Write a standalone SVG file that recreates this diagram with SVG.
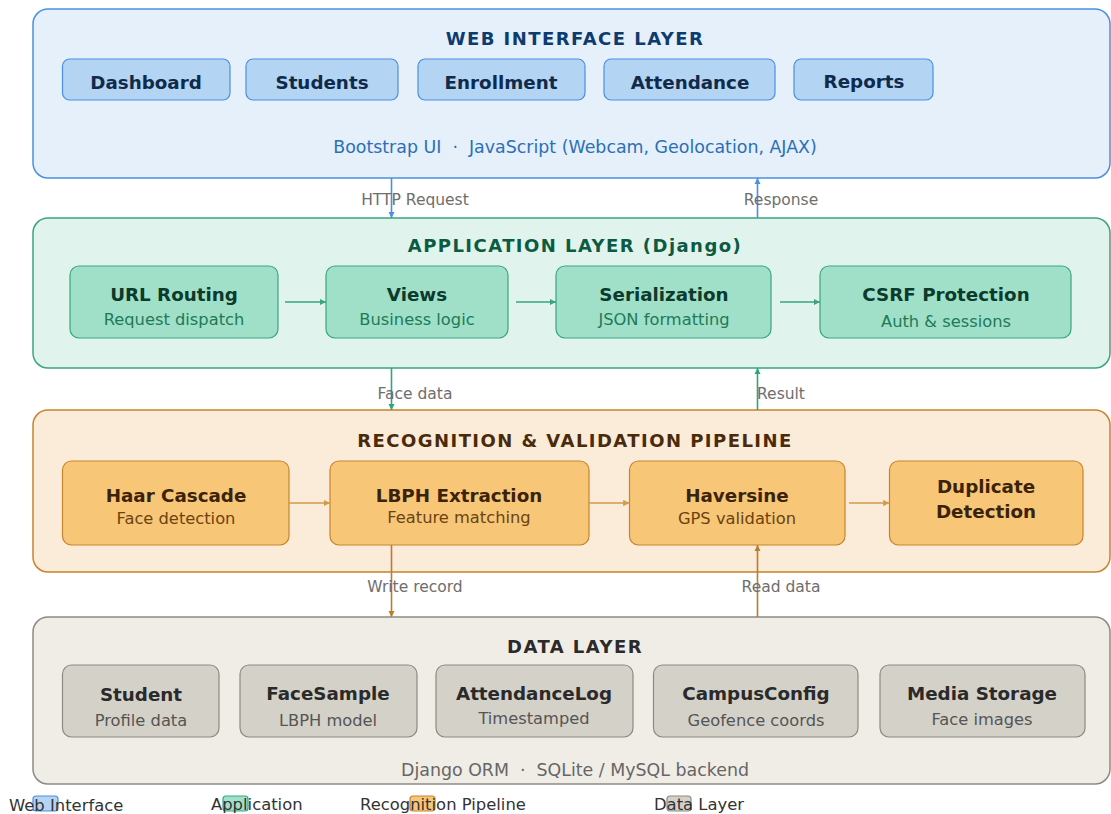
<svg xmlns="http://www.w3.org/2000/svg" width="1111" height="814" viewBox="0 0 1111 814">
<style>
text{font-family:"DejaVu Sans","Noto Sans",sans-serif;text-anchor:middle;white-space:pre}
.lt{font-size:18px;font-weight:bold;letter-spacing:1.45px}
.nt{font-size:18.3px;font-weight:bold}
.ns{font-size:16.3px}
.fs{font-size:17.4px}
.cl{font-size:15.5px;fill:#6e6e6e}
.lg{font-size:16.4px;fill:#333;text-anchor:start}
.web .layer{fill:#e5f0fb;stroke:#4a90e2;stroke-width:1.5}
.web .node{fill:#b4d4f3;stroke:#4a90e2;stroke-width:1.2}
.app .layer{fill:#e0f3ec;stroke:#3aa57f;stroke-width:1.5}
.app .node{fill:#a0e0c9;stroke:#3aa57f;stroke-width:1.2}
.rec .layer{fill:#faecd9;stroke:#c8832d;stroke-width:1.5}
.rec .node{fill:#f8c677;stroke:#c8832d;stroke-width:1.2}
.dat .layer{fill:#f0ede6;stroke:#8c8a84;stroke-width:1.5}
.dat .node{fill:#d4d1c9;stroke:#8c8a84;stroke-width:1.2}
.cb{stroke:#4a90e2;stroke-width:1.6;fill:none}
.cg{stroke:#2fa57a;stroke-width:1.6;fill:none}
.co{stroke:#c07a28;stroke-width:1.6;fill:none}
.ig{stroke:#3aa57f;stroke-width:1.6;fill:none}
.io{stroke:#d49a4a;stroke-width:1.6;fill:none}
</style>
<defs>
<marker id="ab" viewBox="0 0 10 10" refX="10" refY="5" markerWidth="4" markerHeight="4" orient="auto"><path d="M0,0 L10,5 L0,10 z" fill="#4a90e2"/></marker>
<marker id="ag" viewBox="0 0 10 10" refX="10" refY="5" markerWidth="4" markerHeight="4" orient="auto"><path d="M0,0 L10,5 L0,10 z" fill="#2fa57a"/></marker>
<marker id="ao" viewBox="0 0 10 10" refX="10" refY="5" markerWidth="4" markerHeight="4" orient="auto"><path d="M0,0 L10,5 L0,10 z" fill="#c07a28"/></marker>
<marker id="aig" viewBox="0 0 10 10" refX="10" refY="5" markerWidth="4" markerHeight="4" orient="auto"><path d="M0,0 L10,5 L0,10 z" fill="#3aa57f"/></marker>
<marker id="aio" viewBox="0 0 10 10" refX="10" refY="5" markerWidth="4" markerHeight="4" orient="auto"><path d="M0,0 L10,5 L0,10 z" fill="#d49a4a"/></marker>
</defs>

<g id="web-layer" class="web">
<rect class="layer" x="33" y="9" width="1077" height="169" rx="15"/>
<text class="lt" x="575" y="45" fill="#0d3b6e">WEB INTERFACE LAYER</text>
<g id="dashboard"><rect class="node" x="62.5" y="59" width="167.5" height="41" rx="7"/><text class="nt" x="146" y="89" fill="#0f2a4a">Dashboard</text></g>
<g id="students"><rect class="node" x="246" y="59" width="152" height="41" rx="7"/><text class="nt" x="322" y="89" fill="#0f2a4a">Students</text></g>
<g id="enrollment"><rect class="node" x="418" y="59" width="167" height="41" rx="7"/><text class="nt" x="501" y="89" fill="#0f2a4a">Enrollment</text></g>
<g id="attendance"><rect class="node" x="604" y="59" width="171" height="41" rx="7"/><text class="nt" x="690" y="89" fill="#0f2a4a">Attendance</text></g>
<g id="reports"><rect class="node" x="794" y="59" width="139" height="41" rx="7"/><text class="nt" x="864" y="88" fill="#0f2a4a">Reports</text></g>
<text class="fs" x="575" y="153" fill="#2c6fb7">Bootstrap UI  ·  JavaScript (Webcam, Geolocation, AJAX)</text>
</g>

<g id="app-layer" class="app">
<rect class="layer" x="33" y="218" width="1077" height="150" rx="15"/>
<text class="lt" x="575" y="252" fill="#0d5a42">APPLICATION LAYER (Django)</text>
<g id="url-routing"><rect class="node" x="70" y="266" width="208" height="72" rx="9"/><text class="nt" x="174" y="301" fill="#0c3a2b">URL Routing</text><text class="ns" x="174" y="325" fill="#1e7a58">Request dispatch</text></g>
<g id="views"><rect class="node" x="326" y="266" width="182" height="72" rx="9"/><text class="nt" x="417" y="301" fill="#0c3a2b">Views</text><text class="ns" x="417" y="325" fill="#1e7a58">Business logic</text></g>
<g id="serialization"><rect class="node" x="556" y="266" width="215" height="72" rx="9"/><text class="nt" x="664" y="301" fill="#0c3a2b">Serialization</text><text class="ns" x="664" y="325" fill="#1e7a58">JSON formatting</text></g>
<g id="csrf"><rect class="node" x="820" y="266" width="251" height="72" rx="9"/><text class="nt" x="946" y="301" fill="#0c3a2b">CSRF Protection</text><text class="ns" x="946" y="327" fill="#1e7a58">Auth &amp; sessions</text></g>
</g>

<g id="rec-layer" class="rec">
<rect class="layer" x="33" y="410" width="1077" height="162" rx="15"/>
<text class="lt" x="575" y="447" fill="#4a2a08">RECOGNITION &amp; VALIDATION PIPELINE</text>
<g id="haar"><rect class="node" x="62.5" y="461" width="226.5" height="84" rx="9"/><text class="nt" x="176" y="502" fill="#3a2308">Haar Cascade</text><text class="ns" x="176" y="524" fill="#6b4310">Face detection</text></g>
<g id="lbph"><rect class="node" x="330" y="461" width="259" height="84" rx="9"/><text class="nt" x="459" y="502" fill="#3a2308">LBPH Extraction</text><text class="ns" x="459" y="523" fill="#6b4310">Feature matching</text></g>
<g id="haversine"><rect class="node" x="629.5" y="461" width="215.5" height="84" rx="9"/><text class="nt" x="737" y="502" fill="#3a2308">Haversine</text><text class="ns" x="737" y="524" fill="#6b4310">GPS validation</text></g>
<g id="duplicate"><rect class="node" x="889.5" y="461" width="193.5" height="84" rx="9"/><text class="nt" x="986" y="493" fill="#3a2308">Duplicate</text><text class="nt" x="986" y="518" fill="#3a2308">Detection</text></g>
</g>

<g id="data-layer" class="dat">
<rect class="layer" x="33" y="617" width="1077" height="167" rx="15"/>
<text class="lt" x="575" y="653" fill="#2a2a2a">DATA LAYER</text>
<g id="student"><rect class="node" x="62.5" y="665" width="156.5" height="72" rx="9"/><text class="nt" x="141" y="701" fill="#2a2a2a">Student</text><text class="ns" x="141" y="726" fill="#555">Profile data</text></g>
<g id="facesample"><rect class="node" x="240" y="665" width="177" height="72" rx="9"/><text class="nt" x="328" y="700" fill="#2a2a2a">FaceSample</text><text class="ns" x="328" y="726" fill="#555">LBPH model</text></g>
<g id="attendancelog"><rect class="node" x="436" y="665" width="197" height="72" rx="9"/><text class="nt" x="534" y="700" fill="#2a2a2a">AttendanceLog</text><text class="ns" x="534" y="724" fill="#555">Timestamped</text></g>
<g id="campusconfig"><rect class="node" x="653.5" y="665" width="204.5" height="72" rx="9"/><text class="nt" x="756" y="700" fill="#2a2a2a">CampusConfig</text><text class="ns" x="756" y="726" fill="#555">Geofence coords</text></g>
<g id="media"><rect class="node" x="880" y="665" width="205" height="72" rx="9"/><text class="nt" x="982" y="700" fill="#2a2a2a">Media Storage</text><text class="ns" x="982" y="725" fill="#555">Face images</text></g>
<text class="fs" x="575" y="776" fill="#666">Django ORM  ·  SQLite / MySQL backend</text>
</g>

<g id="connectors">
<line class="cb" x1="391.5" y1="178" x2="391.5" y2="218" marker-end="url(#ab)"/>
<line class="cb" x1="757.5" y1="218" x2="757.5" y2="178" marker-end="url(#ab)"/>
<line class="cg" x1="391.5" y1="368" x2="391.5" y2="410" marker-end="url(#ag)"/>
<line class="cg" x1="757.5" y1="410" x2="757.5" y2="368" marker-end="url(#ag)"/>
<line class="co" x1="391.5" y1="545" x2="391.5" y2="617" marker-end="url(#ao)"/>
<line class="co" x1="757.5" y1="617" x2="757.5" y2="545" marker-end="url(#ao)"/>
<line class="ig" x1="285" y1="302" x2="326" y2="302" marker-end="url(#aig)"/>
<line class="ig" x1="516" y1="302" x2="556" y2="302" marker-end="url(#aig)"/>
<line class="ig" x1="780" y1="302" x2="820" y2="302" marker-end="url(#aig)"/>
<line class="io" x1="289" y1="503" x2="330" y2="503" marker-end="url(#aio)"/>
<line class="io" x1="589" y1="503" x2="629.5" y2="503" marker-end="url(#aio)"/>
<line class="io" x1="849" y1="503" x2="889.5" y2="503" marker-end="url(#aio)"/>
<text class="cl" x="415" y="205">HTTP Request</text>
<text class="cl" x="781" y="205">Response</text>
<text class="cl" x="415" y="399">Face data</text>
<text class="cl" x="781" y="399">Result</text>
<text class="cl" x="415" y="592">Write record</text>
<text class="cl" x="781" y="592">Read data</text>
</g>

<g id="legend">
<rect x="33" y="796" width="25" height="15" rx="3" fill="#b4d4f3" stroke="#4a90e2" stroke-width="1.2"/>
<rect x="223" y="796" width="25" height="15" rx="3" fill="#a0e0c9" stroke="#3aa57f" stroke-width="1.2"/>
<rect x="410" y="796" width="25" height="15" rx="3" fill="#f8c677" stroke="#c8832d" stroke-width="1.2"/>
<rect x="667" y="796" width="24" height="15" rx="3" fill="#d4d1c9" stroke="#8c8a84" stroke-width="1.2"/>
<text class="lg" x="9" y="811">Web Interface</text>
<text class="lg" x="211" y="810">Application</text>
<text class="lg" x="360" y="810">Recognition Pipeline</text>
<text class="lg" x="654" y="810">Data Layer</text>
</g>
</svg>
